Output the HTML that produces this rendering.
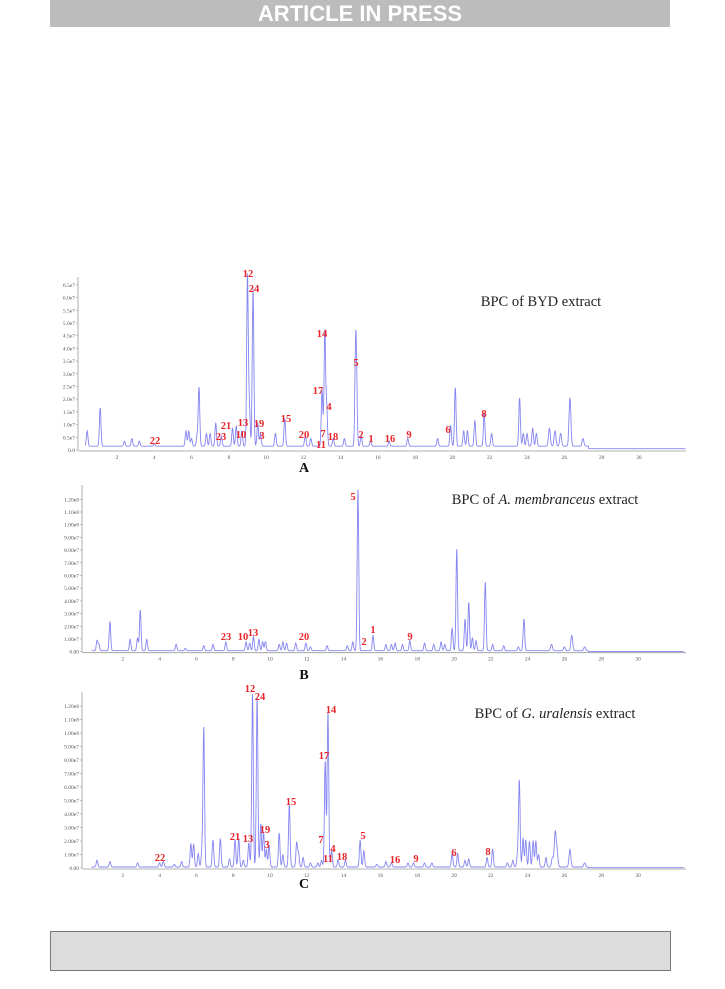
<!DOCTYPE html>
<html><head><meta charset="utf-8"><style>
body{margin:0;background:#fff;width:725px;height:989px;position:relative;overflow:hidden;font-family:"Liberation Serif",serif}
#hdr{position:absolute;left:50px;top:0;width:620px;height:27px;background:#bcbcbc;color:#fff;font:bold 22px "Liberation Sans",sans-serif;text-align:center;line-height:28px}
#ftr{position:absolute;left:50px;top:931px;width:619px;height:38px;background:#dcdcdc;border:1px solid #777}
svg{position:absolute;left:0;top:0}
</style></head><body>
<div id="hdr">ARTICLE IN PRESS</div>
<div id="ftr"></div>
<svg id="s" width="725" height="989"></svg>
<script>
// Chart A (units 1e7)
const rtA=[0.4,1.1,2.4,2.8,3.2,4.0,5.7,5.85,6.0,6.3,6.4,6.8,7.0,7.3,7.6,8.2,8.4,8.7,9.0,9.1,9.3,9.55,9.7,10.5,11.0,12.1,12.4,13.0,13.15,13.25,13.6,14.2,14.8,14.85,15.1,15.6,16.6,17.6,19.2,19.9,20.15,20.6,20.8,21.2,21.7,22.1,23.6,23.8,24.0,24.3,24.5,25.2,25.5,25.8,26.3,27.0];
const hA=[0.6,1.5,0.2,0.3,0.2,0.1,0.6,0.6,0.3,0.4,2.3,0.5,0.5,0.9,0.4,0.7,0.8,0.6,6.7,1.6,6.2,0.9,0.5,0.5,1.1,0.4,0.3,2.2,4.5,1.5,0.3,0.3,3.3,2.1,0.4,0.2,0.2,0.3,0.3,0.8,2.3,0.6,0.6,1.0,1.3,0.5,1.9,0.5,0.5,0.7,0.5,0.7,0.6,0.5,1.9,0.3];
const ticksA=["0.0","0.5e7","1.0e7","1.5e7","2.0e7","2.5e7","3.0e7","3.5e7","4.0e7","4.5e7","5.0e7","5.5e7","6.0e7","6.5e7"];
// Chart B
const rtB=[0.6,0.7,1.3,2.4,2.8,2.95,3.3,4.9,5.4,6.4,6.9,7.6,8.7,8.9,9.1,9.4,9.6,9.75,10.5,10.7,10.9,11.4,11.95,12.2,13.1,14.2,14.5,14.78,15.6,16.3,16.6,16.8,17.2,17.6,18.4,18.9,19.3,19.5,19.9,20.15,20.6,20.8,21.0,21.2,21.7,22.1,22.7,23.5,23.8,25.3,26.0,26.4,27.1];
const hB=[0.8,0.5,2.3,0.9,1.0,3.2,0.9,0.5,0.2,0.4,0.5,0.7,0.7,0.6,1.1,0.9,0.7,0.7,0.5,0.7,0.6,0.6,0.6,0.3,0.4,0.4,0.7,12.7,1.2,0.5,0.5,0.6,0.5,0.8,0.6,0.5,0.7,0.5,1.8,8.0,2.5,3.8,1.0,0.8,5.4,0.5,0.4,0.3,2.5,0.5,0.3,1.2,0.3];
const ticksB=["0.00","1.00e7","2.00e7","3.00e7","4.00e7","5.00e7","6.00e7","7.00e7","8.00e7","9.00e7","1.00e8","1.10e8","1.20e8"];
// Chart C
const rtC=[0.6,1.3,2.8,4.0,4.2,4.8,5.2,5.7,5.85,6.1,6.3,6.4,6.9,7.3,7.8,8.1,8.3,8.55,8.85,9.05,9.3,9.5,9.65,9.8,9.95,10.5,10.7,11.05,11.45,11.55,11.8,12.2,12.6,12.8,13.0,13.15,13.35,13.7,14.1,14.9,15.1,15.8,16.3,16.6,17.5,17.8,18.4,18.8,19.9,20.2,20.6,20.8,21.8,22.1,22.9,23.2,23.45,23.55,23.75,23.9,24.1,24.3,24.45,24.6,25.0,25.35,25.5,25.6,26.3,27.1];
const hC=[0.5,0.4,0.3,0.3,0.4,0.2,0.4,1.7,1.7,1.0,1.2,10.3,2.0,2.1,0.6,2.0,2.1,0.5,1.8,12.8,12.5,3.2,2.6,1.3,1.6,2.5,0.9,4.6,1.8,1.0,0.7,0.3,0.3,0.5,7.8,11.5,1.2,0.5,0.5,2.0,1.2,0.2,0.4,0.3,0.3,0.3,0.3,0.3,1.0,1.0,0.5,0.6,0.7,1.3,0.3,0.5,0.9,6.4,2.1,2.0,1.9,1.9,1.9,0.9,0.7,0.7,2.5,1.1,1.3,0.3];
const ticksC=["0.00","1.00e7","2.00e7","3.00e7","4.00e7","5.00e7","6.00e7","7.00e7","8.00e7","9.00e7","1.00e8","1.10e8","1.20e8"];
const xTicks=[2,4,6,8,10,12,14,16,18,20,22,24,26,28,30];

const NS="http://www.w3.org/2000/svg",S=document.getElementById('s');
function mk(t,a,p){const e=document.createElementNS(NS,t);for(const k in a)e.setAttribute(k,a[k]);(p||S).appendChild(e);return e;}
function chart(cfg){
  const g=mk('g',{});
  
  
  const X=t=>cfg.x0+t*cfg.px, Y=v=>cfg.y0-v*cfg.py;
  mk('line',{x1:cfg.ax,y1:cfg.y0,x2:cfg.ax,y2:cfg.top,stroke:'#999','stroke-width':0.8},g);
  mk('line',{x1:cfg.ax,y1:cfg.y0+1,x2:686,y2:cfg.y0+1,stroke:'#999','stroke-width':0.8},g);
  cfg.ticks.forEach((l,i)=>{const v=i*cfg.step;
    mk('line',{x1:cfg.ax-2,y1:Y(v),x2:cfg.ax,y2:Y(v),stroke:'#999','stroke-width':0.6},g);
    const t=mk('text',{x:cfg.ax-3,y:Y(v)+2,'font-size':5.5,'text-anchor':'end',fill:'#555'},g);t.textContent=l;
    
    });
  xTicks.forEach(v=>{const t=mk('text',{x:X(v),y:cfg.y0+9,'font-size':5.5,'text-anchor':'middle',fill:'#555'},g);t.textContent=v;
    
    });
  let d='';
  for(let t=0.3;t<=32.5;t+=0.01){
    let v=t<27.3?0.15:0.05;
    if(cfg.base) v=v*cfg.base;
    for(let i=0;i<cfg.rt.length;i++){const s=cfg.rt[i]>25?0.05:0.042;const z=(t-cfg.rt[i])/s;if(Math.abs(z)<5)v+=cfg.h[i]*Math.exp(-0.5*z*z);}
    d+=(d?'L':'M')+X(t).toFixed(1)+','+Y(v).toFixed(1);
  }
  const p=mk('path',{d:d,fill:'none',stroke:'#8585f2','stroke-width':0.9},g);
  
  
  cfg.labels.forEach(([l,x,y])=>{const t=mk('text',{x:x,y:y+4,'font-size':10.5,'font-weight':'bold','text-anchor':'middle',fill:'#e8242a'},g);t.textContent=l;
    
    });
  const tt=mk('text',{x:cfg.tx,y:cfg.ty,'font-size':14.5,'text-anchor':'middle',fill:'#222'},g);tt.innerHTML=cfg.title;
  
  
  const pl=mk('text',{x:304,y:cfg.py2,'font-size':14,'font-weight':'bold','text-anchor':'middle',fill:'#111'},g);pl.textContent=cfg.panel;
  
  
}
chart({name:'chart-a',rt:rtA,h:hA,ticks:ticksA,step:0.5,x0:79.7,px:18.64,y0:450,py:25.4,ax:78,top:277,
 title:'BPC of BYD extract',tx:541,ty:306,panel:'A',py2:472,
 labels:[['12',248,273],['24',254,288],['14',322,333],['5',356,362],['17',318,390],['4',329,406],['15',286,418],['21',226,425],['13',243,422],['19',259,423],['23',221,436],['10',241,434],['3',262,435],['20',304,434],['7',323,433],['18',333,436],['2',361,434],['1',371,438],['16',390,438],['22',155,440],['11',321,444],['6',448,429],['8',484,413],['9',409,434]]});
chart({name:'chart-b',rt:rtB,h:hB,ticks:ticksB,step:1,x0:86,px:18.4,y0:651.7,py:12.7,ax:82,top:485,base:0.5,
 title:'BPC of <tspan font-style="italic">A. membranceus</tspan> extract',tx:545,ty:504,panel:'B',py2:679,
 labels:[['5',353,496],['23',226,636],['10',243,636],['13',253,632],['20',304,636],['2',364,641],['1',373,629],['9',410,636]]});
chart({name:'chart-c',rt:rtC,h:hC,ticks:ticksC,step:1,x0:86,px:18.4,y0:868,py:13.5,ax:82,top:692,base:0.5,
 title:'BPC of <tspan font-style="italic">G. uralensis</tspan> extract',tx:555,ty:718,panel:'C',py2:888,
 labels:[['12',250,688],['24',260,696],['14',331,709],['17',324,755],['15',291,801],['19',265,829],['21',235,836],['13',248,838],['3',267,844],['7',321,839],['4',333,848],['11',328,858],['18',342,856],['5',363,835],['22',160,857],['16',395,859],['9',416,858],['6',454,852],['8',488,851]]});
</script>
</body></html>
